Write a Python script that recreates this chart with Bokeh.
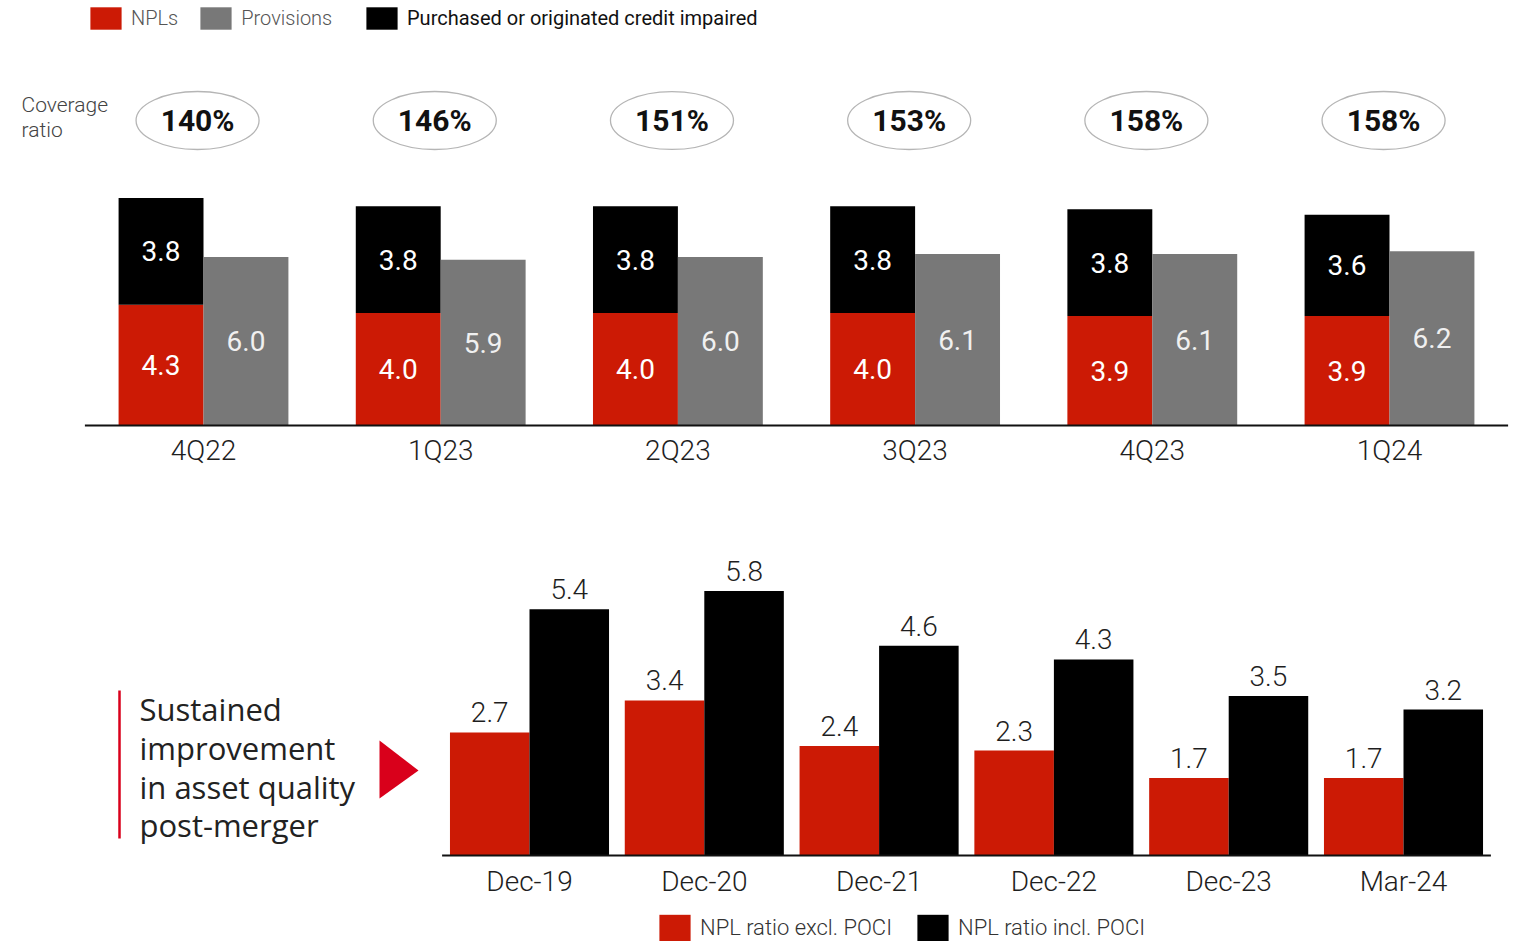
from bokeh.plotting import figure
from bokeh.models import Range1d, FixedTicker, Legend, LegendItem, ColumnDataSource, LinearAxis
from bokeh.transform import dodge
from bokeh.core.properties import value
from bokeh.embed import file_html
from bokeh.resources import INLINE

# ---------------- data ----------------
quarters = ["4Q22", "1Q23", "2Q23", "3Q23", "4Q23", "1Q24"]
npls = [4.3, 4.0, 4.0, 4.0, 3.9, 3.9]
poci = [3.8, 3.8, 3.8, 3.8, 3.8, 3.6]
provisions = [6.0, 5.9, 6.0, 6.1, 6.1, 6.2]
coverage = ["140%", "146%", "151%", "153%", "158%", "158%"]

periods = ["Dec-19", "Dec-20", "Dec-21", "Dec-22", "Dec-23", "Mar-24"]
npl_excl = [2.7, 3.4, 2.4, 2.3, 1.7, 1.7]
npl_incl = [5.4, 5.8, 4.6, 4.3, 3.5, 3.2]

headline = ["Sustained", "improvement", "in asset quality", "post-merger"]

# ---------------- style ----------------
RED = "#cc1a05"
GRAY = "#787878"
BLACK = "#000000"
ARROW_RED = "#d9001b"
TXT = "#1e1e1e"
FONT = "Roboto"
LIGHT = "Roboto Light"
W, H = 1521, 941

# pixel -> data helpers (layout only)
T_UNIT, T_C0, T_BASE, T_YPX = 237.2, 203.0, 425.0, 28.1
B_UNIT, B_C0, B_BASE, B_YPX = 174.8, 529.0, 855.0, 45.6
LABEL_PAD_PX = 20   # gap between bar top and centre of the value label (bottom chart)


def tx(px):
    return (px - T_C0) / T_UNIT


def ty(py):
    return (T_BASE - py) / T_YPX


def bx(px):
    return (px - B_C0) / B_UNIT


def by(py):
    return (B_BASE - py) / B_YPX


p = figure(width=W, height=H, output_backend="svg", toolbar_location=None,
           x_range=Range1d(tx(0), tx(W)), y_range=Range1d(ty(H), ty(0)),
           y_axis_location=None, min_border=0)
p.extra_x_ranges = {"bx": Range1d(bx(0), bx(W))}
p.extra_y_ranges = {"by": Range1d(by(H), by(0))}
p.grid.visible = False
p.outline_line_color = None
p.background_fill_color = "white"
p.border_fill_color = "white"

# ================= top chart =================
idx = list(range(len(quarters)))
top_src = ColumnDataSource(dict(
    x=idx,
    npl=npls,
    poci_top=[a + b for a, b in zip(npls, poci)],
    prov=provisions,
    npl_mid=[a / 2 for a in npls],
    poci_mid=[a + b / 2 for a, b in zip(npls, poci)],
    prov_mid=[v / 2 for v in provisions],
    npl_lbl=[f"{v:.1f}" for v in npls],
    poci_lbl=[f"{v:.1f}" for v in poci],
    prov_lbl=[f"{v:.1f}" for v in provisions],
    cov=coverage,
))

BW = 0.358
xl = dodge("x", -BW / 2, range=p.x_range)
xr = dodge("x", BW / 2, range=p.x_range)

r_npl = p.vbar(x=xl, width=BW, bottom=0, top="npl", fill_color=RED, line_color=None, source=top_src)
r_poci = p.vbar(x=xl, width=BW, bottom="npl", top="poci_top", fill_color=BLACK, line_color=None, source=top_src)
r_prov = p.vbar(x=xr, width=BW, bottom=0, top="prov", fill_color=GRAY, line_color=None, source=top_src)

lbl_kw = dict(text_align="center", text_baseline="middle", text_font=value(FONT),
              text_font_size="28px", source=top_src)
p.text(x=xl, y="npl_mid", text="npl_lbl", text_color="white", **lbl_kw)
p.text(x=xl, y="poci_mid", text="poci_lbl", text_color="white", **lbl_kw)
p.text(x=xr, y="prov_mid", text="prov_lbl", text_color="#f0f0f0", **lbl_kw)

# baseline
p.segment(x0=min(idx) - 0.5, y0=0, x1=max(idx) + 0.5, y1=0, line_color="#111111", line_width=2)

# coverage ratio ellipses
ELL_Y = ty(120)
ex = dodge("x", -0.025, range=p.x_range)
p.ellipse(x=ex, y=ELL_Y, width=123, height=58, width_units="screen", height_units="screen",
          fill_color="white", line_color="#b5b5b5", line_width=1.3, source=top_src)
p.text(x=ex, y=ELL_Y, text="cov", text_align="center", text_baseline="middle",
       text_font=value(FONT), text_font_style="bold", text_font_size="30px",
       text_color="#111111", source=top_src)

p.text(x=[tx(21), tx(21)], y=[ty(104), ty(129)], text=["Coverage", "ratio"],
       text_align="left", text_baseline="middle", text_font=value(LIGHT),
       text_font_size="21px", text_color="#444444")

top_axis = p.xaxis[0]
top_axis.fixed_location = 0
top_axis.ticker = FixedTicker(ticks=idx)
top_axis.major_label_overrides = {i: q for i, q in zip(idx, quarters)}
top_axis.axis_line_color = None
top_axis.major_tick_line_color = None
top_axis.minor_tick_line_color = None
top_axis.major_label_standoff = 2
top_axis.major_label_text_font = LIGHT
top_axis.major_label_text_font_size = "28px"
top_axis.major_label_text_color = TXT

leg_kw = dict(orientation="horizontal", padding=0, margin=0, spacing=18, label_standoff=6,
              glyph_width=39, glyph_height=28, border_line_color=None, background_fill_alpha=0,
              label_text_font_size="20px", label_text_baseline="middle")
leg1 = Legend(items=[LegendItem(label=value("NPLs"), renderers=[r_npl]),
                     LegendItem(label=value("Provisions"), renderers=[r_prov])],
              location=(86, H - 32), label_text_color="#555555", label_text_font=LIGHT, **leg_kw)
leg2 = Legend(items=[LegendItem(label=value("Purchased or originated credit impaired"), renderers=[r_poci])],
              location=(362, H - 32), label_text_color="#111111", label_text_font=FONT, **leg_kw)
p.add_layout(leg1)
p.add_layout(leg2)

# ================= bottom chart =================
bidx = list(range(len(periods)))
pad = LABEL_PAD_PX / B_YPX
bot_src = ColumnDataSource(dict(
    x=bidx, excl=npl_excl, incl=npl_incl,
    excl_pos=[v + pad for v in npl_excl],
    incl_pos=[v + pad for v in npl_incl],
    excl_lbl=[f"{v:.1f}" for v in npl_excl],
    incl_lbl=[f"{v:.1f}" for v in npl_incl],
))
BR = dict(x_range_name="bx", y_range_name="by")
BBW = 0.455
bxl = dodge("x", -BBW / 2, range=p.extra_x_ranges["bx"])
bxr = dodge("x", BBW / 2, range=p.extra_x_ranges["bx"])
r_excl = p.vbar(x=bxl, width=BBW, bottom=0, top="excl", fill_color=RED, line_color=None, source=bot_src, **BR)
r_incl = p.vbar(x=bxr, width=BBW, bottom=0, top="incl", fill_color=BLACK, line_color=None, source=bot_src, **BR)
vl_kw = dict(text_align="center", text_baseline="middle", text_font=value(LIGHT),
             text_font_size="28px", text_color=TXT, source=bot_src)
p.text(x=bxl, y="excl_pos", text="excl_lbl", **vl_kw, **BR)
p.text(x=bxr, y="incl_pos", text="incl_lbl", **vl_kw, **BR)

p.segment(x0=min(bidx) - 0.5, y0=0, x1=max(bidx) + 0.5, y1=0, line_color="#111111", line_width=2, **BR)

bot_axis = LinearAxis(x_range_name="bx", y_range_name="by", fixed_location=0)
bot_axis.ticker = FixedTicker(ticks=bidx)
bot_axis.major_label_overrides = {i: q for i, q in zip(bidx, periods)}
bot_axis.axis_line_color = None
bot_axis.major_tick_line_color = None
bot_axis.minor_tick_line_color = None
bot_axis.major_label_standoff = 3
bot_axis.major_label_text_font = LIGHT
bot_axis.major_label_text_font_size = "28px"
bot_axis.major_label_text_color = TXT
p.add_layout(bot_axis, "below")

bleg = Legend(items=[LegendItem(label=value("NPL ratio excl. POCI"), renderers=[r_excl]),
                     LegendItem(label=value("NPL ratio incl. POCI"), renderers=[r_incl])],
              orientation="horizontal", location=(655, -3), padding=0, margin=0, spacing=21,
              label_standoff=6, glyph_width=39, glyph_height=33, border_line_color=None,
              background_fill_alpha=0, label_text_font=LIGHT, label_text_font_size="22px",
              label_text_color="#333333", label_text_baseline="middle")
p.add_layout(bleg)

# left commentary
p.segment(x0=bx(119), y0=by(690), x1=bx(119), y1=by(838), line_color=ARROW_RED, line_width=2.5, **BR)
p.text(x=[bx(139)] * len(headline), y=[by(708), by(747), by(786), by(824)], text=headline,
       text_align="left", text_baseline="middle", text_font=value("Open Sans"),
       text_font_size="31px", text_color="#222222", **BR)
p.patch(x=[bx(379), bx(379), bx(418)], y=[by(740), by(798), by(770)],
        fill_color=ARROW_RED, line_color=None, **BR)

open("out.html", "w").write(file_html(p, INLINE))
